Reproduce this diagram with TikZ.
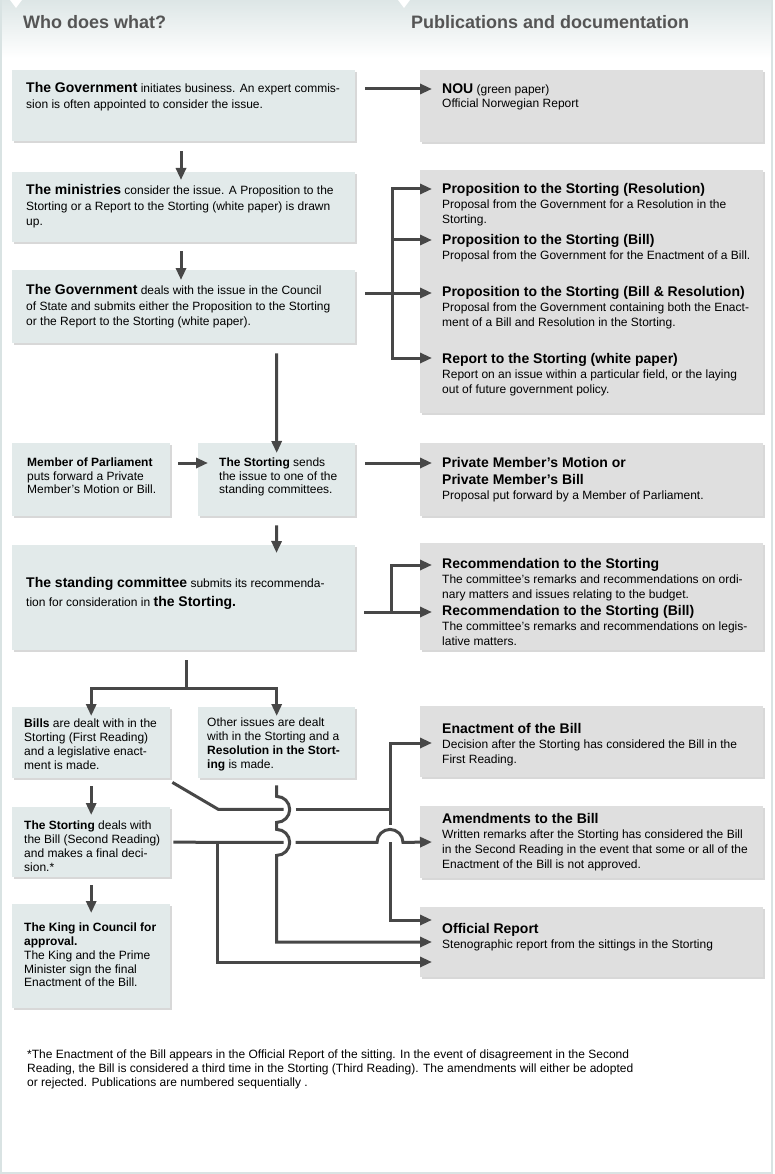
\documentclass[tikz,border=0pt]{standalone}
\usepackage{fontspec}
\setmainfont{Liberation Sans}
\usetikzlibrary{arrows.meta,positioning,calc,shadows}

\definecolor{leftfill}{HTML}{E2EAEA}
\definecolor{rightfill}{HTML}{DFDFDF}
\definecolor{linecol}{HTML}{474747}
\definecolor{headcol}{HTML}{555555}
\definecolor{framecol}{HTML}{D9E3E3}
\definecolor{bandcol}{HTML}{DDE6E6}

% bold lead-in words and publication titles
\newcommand{\leadin}[1]{{\fontsize{14}{15}\selectfont\bfseries #1}}

\tikzset{
  box/.style={anchor=north west, inner sep=0pt, draw=none,
    drop shadow={shadow xshift=1.5pt, shadow yshift=-1.5pt, fill=black!30}},
  lbox/.style={box, fill=leftfill},
  rbox/.style={box, fill=rightfill},
  txt/.style={anchor=north west, inner sep=0pt, align=left, font=\fontsize{12}{15.5}\selectfont},
  smalltxt/.style={txt, font=\fontsize{12}{13.8}\selectfont},
  pubtxt/.style={txt, font=\fontsize{12}{15}\selectfont},
  head/.style={anchor=base west, inner sep=0pt, text=headcol, font=\fontsize{18}{20}\selectfont\bfseries},
  conn/.style={line width=3pt, draw=linecol},
  arr/.style={conn, -{Triangle[length=12pt,width=10pt]}},
}

\begin{document}
\begin{tikzpicture}[x=1pt, y=-1pt]
  \useasboundingbox (0,0) rectangle (774,1174);

  % page background and header band
  \shade[top color=bandcol, bottom color=white] (0,0) rectangle (772,58);
  \draw[framecol, line width=1.5pt] (1,-2) -- (1,1173) -- (772,1173) -- (772,-2);
  \fill[white] (10,0) -- (22,0) -- (16,8) -- cycle;
  \fill[white] (398,0) -- (410,0) -- (404,8) -- cycle;

  \node[head] (whohead) at (23,29) {Who does what?};
  \node[head] (pubhead) at (411,29) {Publications and documentation};

  % left column: who does what
  \node[lbox, minimum width=343, minimum height=71] (gov) at (12,70) {};
  \node[lbox, minimum width=343, minimum height=70] (min) at (12,172) {};
  \node[lbox, minimum width=343, minimum height=73] (cou) at (12,270) {};
  \node[lbox, minimum width=158, minimum height=73] (mp) at (12,443) {};
  \node[lbox, minimum width=157, minimum height=73] (sto) at (198,443) {};
  \node[lbox, minimum width=343, minimum height=105] (com) at (12,545) {};
  \node[lbox, minimum width=158, minimum height=71] (bil) at (12,707) {};
  \node[lbox, minimum width=157, minimum height=71] (oth) at (198,707) {};
  \node[lbox, minimum width=158, minimum height=70] (dea) at (12,807) {};
  \node[lbox, minimum width=158, minimum height=104] (kin) at (12,904) {};

  % right column: publications
  \node[rbox, minimum width=343, minimum height=72] (nou) at (420,70) {};
  \node[rbox, minimum width=343, minimum height=243] (pro) at (420,170) {};
  \node[rbox, minimum width=343, minimum height=73] (pmm) at (420,443) {};
  \node[rbox, minimum width=343, minimum height=107] (rec) at (420,543) {};
  \node[rbox, minimum width=343, minimum height=71] (ena) at (420,706) {};
  \node[rbox, minimum width=343, minimum height=72] (ame) at (420,806) {};
  \node[rbox, minimum width=343, minimum height=70] (off) at (420,907) {};

  % texts of the left column
  \node[txt] (govtxt) at (26,82.5) {\leadin{The Government} initiates business. An expert commis-\\sion is often appointed to consider the issue.};
  \node[txt] (mintxt) at (26,184.5) {\leadin{The ministries} consider the issue. A Proposition to the\\Storting or a Report to the Storting (white paper) is drawn\\up.};
  \node[txt] (coutxt) at (26,284.5) {\leadin{The Government} deals with the issue in the Council\\of State and submits either the Proposition to the Storting\\or the Report to the Storting (white paper).};
  \node[smalltxt] (mptxt) at (27,457.5) {\textbf{Member of Parliament}\\puts forward a Private\\Member's Motion or Bill.};
  \node[smalltxt] (stotxt) at (219,457.5) {\textbf{The Storting} sends\\the issue to one of the\\standing committees.};
  \node[txt, font=\fontsize{12}{18.5}\selectfont] (comtxt) at (26,577.5) {\leadin{The standing committee} submits its recommenda-\\tion for consideration in \leadin{the Storting.}};
  \node[smalltxt] (biltxt) at (24,718.8) {\textbf{Bills} are dealt with in the\\Storting (First Reading)\\and a legislative enact-\\ment is made.};
  \node[smalltxt] (othtxt) at (207,718) {Other issues are dealt\\with in the Storting and a\\\textbf{Resolution in the Stort-}\\\textbf{ing} is made.};
  \node[smalltxt] (deatxt) at (24,820.8) {\textbf{The Storting} deals with\\the Bill (Second Reading)\\and makes a final deci-\\sion.*};
  \node[smalltxt] (kintxt) at (24,922.8) {\textbf{The King in Council for}\\\textbf{approval.}\\The King and the Prime\\Minister sign the final\\Enactment of the Bill.};

  % texts of the right column
  \node[pubtxt, font=\fontsize{12}{14}\selectfont] (noutxt) at (442,83.5) {\leadin{NOU} (green paper)\\Official Norwegian Report};
  \node[pubtxt] (prores) at (442,183.5) {\leadin{Proposition to the Storting (Resolution)}\\Proposal from the Government for a Resolution in the\\Storting.};
  \node[pubtxt] (probil) at (442,234.5) {\leadin{Proposition to the Storting (Bill)}\\Proposal from the Government for the Enactment of a Bill.};
  \node[pubtxt] (probr) at (442,286.5) {\leadin{Proposition to the Storting (Bill \& Resolution)}\\Proposal from the Government containing both the Enact-\\ment of a Bill and Resolution in the Storting.};
  \node[pubtxt] (prorep) at (442,353.5) {\leadin{Report to the Storting (white paper)}\\Report on an issue within a particular field, or the laying\\out of future government policy.};
  \node[pubtxt] (pmmtxt) at (442,457.5) {\leadin{Private Member's Motion or}\\[2pt]\leadin{Private Member's Bill}\\Proposal put forward by a Member of Parliament.};
  \node[pubtxt] (recone) at (442,558.5) {\leadin{Recommendation to the Storting}\\The committee's remarks and recommendations on ordi-\\nary matters and issues relating to the budget.};
  \node[pubtxt] (rectwo) at (442,605.5) {\leadin{Recommendation to the Storting (Bill)}\\The committee's remarks and recommendations on legis-\\lative matters.};
  \node[pubtxt] (enatxt) at (442,723.5) {\leadin{Enactment of the Bill}\\Decision after the Storting has considered the Bill in the\\First Reading.};
  \node[pubtxt] (ametxt) at (442,813.5) {\leadin{Amendments to the Bill}\\Written remarks after the Storting has considered the Bill\\in the Second Reading in the event that some or all of the\\Enactment of the Bill is not approved.};
  \node[pubtxt] (offtxt) at (442,923.5) {\leadin{Official Report}\\Stenographic report from the sittings in the Storting};

  % footnote
  \node[txt, font=\fontsize{12}{14}\selectfont] (foot) at (27,1050) {*The Enactment of the Bill appears in the Official Report of the sitting. In the event of disagreement in the Second\\Reading, the Bill is considered a third time in the Storting (Third Reading). The amendments will either be adopted\\or rejected. Publications are numbered sequentially .};

  % upper connectors
  \draw[arr] ($(gov.north east)+(10,19)$) -- ($(nou.north west)+(12,19)$);
  \draw[arr] ($(gov.south west)+(169,10)$) -- ($(min.north west)+(169,8)$);
  \draw[arr] ($(min.south west)+(169,9)$) -- ($(cou.north west)+(169,10)$);

  \coordinate (pbus) at ($(cou.north east)+(37,23)$);
  \draw[conn] ($(cou.north east)+(10,23)$) -- (pbus);
  \draw[arr] (pbus) |- ($(pro.north west)+(12,19)$);
  \draw[arr] (pbus) |- ($(pro.north west)+(12,70)$);
  \draw[arr] (pbus) -- ($(pro.north west)+(12,123)$);
  \draw[arr] (pbus) |- ($(pro.north west)+(12,188)$);

  \draw[arr] ($(cou.south west)+(264.5,10)$) -- ($(sto.north)+(0,10)$);
  \draw[arr] ($(mp.north east)+(8,20)$) -- ($(sto.north west)+(10,20)$);
  \draw[arr] ($(sto.north east)+(10,20)$) -- ($(pmm.north west)+(12,20)$);
  \draw[arr] ($(sto.south)+(0,9)$) -- ($(com.north west)+(264.5,8)$);

  \coordinate (rbus) at ($(com.north east)+(36,67)$);
  \draw[conn] ($(com.north east)+(9,67)$) -- (rbus);
  \draw[arr] (rbus) |- ($(rec.north west)+(12,22)$);
  \draw[arr] (rbus) -- ($(rec.north west)+(12,69)$);

  \coordinate (split) at ($(com.south west)+(174,38)$);
  \draw[conn] ($(com.south west)+(174,10)$) -- (split);
  \draw[arr] (split) -| ($(bil.north)+(0,9)$);
  \draw[arr] (split) -| ($(oth.north)+(0,9)$);

  \draw[arr] ($(bil.south)+(0,8)$) -- ($(dea.north)+(0,8)$);
  \draw[arr] ($(dea.south)+(0,8)$) -- ($(kin.north)+(0,9)$);

  % lower connectors with line hops
  \coordinate (hopA) at ($(oth.south)+(0,31)$);
  \coordinate (hopB) at ($(oth.south)+(0,64)$);
  \coordinate (ebus) at ($(hopA -| ena.west)+(-30,0)$);
  \coordinate (hopC) at ($(hopB -| ena.west)+(-30,0)$);
  \coordinate (bend) at ($(bil.south east)+(48,31)$);
  \coordinate (dsplit) at ($(hopB)+(-59,0)$);

  \draw[conn] ($(bil.south east)+(2,4)$) -- (bend) -- ($(hopA)+(7,0)$);
  \draw[conn] ($(hopA)+(19,0)$) -- (ebus);
  \draw[arr] (ebus) |- ($(ena.north west)+(12,37)$);
  \draw[conn] (ebus) -- ($(hopC)+(0,-17)$);
  \draw[arr] (hopC) |- ($(off.north west)+(12,13)$);

  \draw[conn] ($(dea.east)+(3,0)$) -- ($(hopB)+(7,0)$);
  \draw[arr] ($(hopB)+(19,0)$) -- ($(hopC)+(-13,0)$) arc[start angle=180, end angle=360, radius=13] -- ($(ame.north west)+(12,36)$);
  \draw[arr] (dsplit) |- ($(off.north west)+(12,55)$);

  \draw[arr] ($(oth.south)+(0,7)$) -- ($(hopA)+(0,-13)$) arc[start angle=-90, end angle=90, radius=13]
    -- ($(hopB)+(0,-13)$) arc[start angle=-90, end angle=90, radius=13] |- ($(off.north west)+(12,35)$);
\end{tikzpicture}
\end{document}
